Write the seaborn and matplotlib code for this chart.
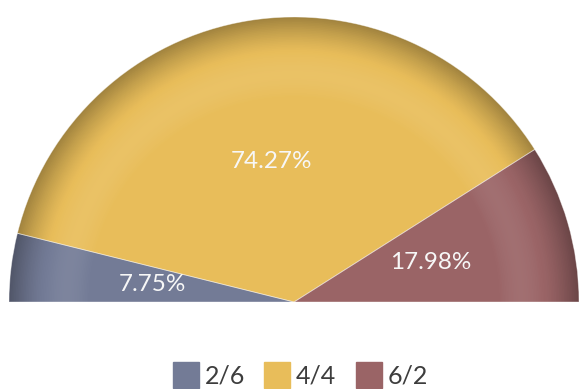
import numpy as np
import matplotlib
matplotlib.use('Agg')
import matplotlib.pyplot as plt
import matplotlib.colors as mcolors
from matplotlib.lines import Line2D
import seaborn as sns

# Data
categories = ['2/6', '4/4', '6/2']
shares = [7.75, 74.27, 17.98]

# Style
sns.set_theme(style='white')
plt.rcParams['font.family'] = ['Lato', 'DejaVu Sans']
palette = sns.color_palette(['#737b96', '#e8bd5a', '#9a6466'])

W, H = 580, 389
fig = plt.figure(figsize=(W / 100, H / 100), dpi=100)
ax = fig.add_axes([0, 0, 1, 1])

center = (294, H - 302)
R = 285

# half pie: add an invisible slice equal to the total
vals = shares + [sum(shares)]


def shade(c, f):
    c = np.array(mcolors.to_rgb(c))
    if f >= 1:
        return tuple(c + (1 - c) * (f - 1))
    return tuple(c * f)


def profile(t):
    # darker rim, soft light band just inside it
    if t > 0.88:
        s = (t - 0.88) / 0.12
        return 1.0 - 0.3 * s ** 1.3
    if t > 0.72:
        return 1.0 + 0.07 * np.sin((t - 0.72) / 0.16 * np.pi)
    return 1.0


# draw from the outside in, each full wedge covering the previous
steps = np.linspace(1.0, 0.72, 50)
for i, t in enumerate(steps):
    cols = [shade(c, profile(t)) for c in palette] + ['none']
    res = ax.pie(vals, colors=cols, startangle=180, counterclock=False,
                 center=center, radius=R * t,
                 autopct=(lambda p: f'{p * 2:.2f}%') if i == 0 else None,
                 pctdistance=0.5,
                 wedgeprops=dict(linewidth=0),
                 textprops=dict(color='#f7f7f7', fontsize=17.5))
    res[0][-1].set_visible(False)
    if i == 0:
        res[2][-1].set_visible(False)

# slice borders
ax.pie(vals, colors=['none'] * 4, startangle=180, counterclock=False,
       center=center, radius=R,
       wedgeprops=dict(linewidth=0.6, edgecolor=(1, 1, 1, 0.45), fill=False))[0][-1].set_visible(False)

ax.set_xlim(0, W)
ax.set_ylim(0, H)
ax.set_aspect('equal')
ax.axis('off')

handles = [Line2D([], [], marker='s', linestyle='none', markersize=19,
                  markerfacecolor=c, markeredgecolor=c) for c in palette]
fig.legend(handles, categories, loc='center', bbox_to_anchor=(300 / W, 13 / H),
           ncol=3, frameon=False, fontsize=18, handletextpad=0.2,
           columnspacing=0.75, labelcolor='#3d3d3d', handlelength=1.1)

fig.savefig('out.png', dpi=100)
